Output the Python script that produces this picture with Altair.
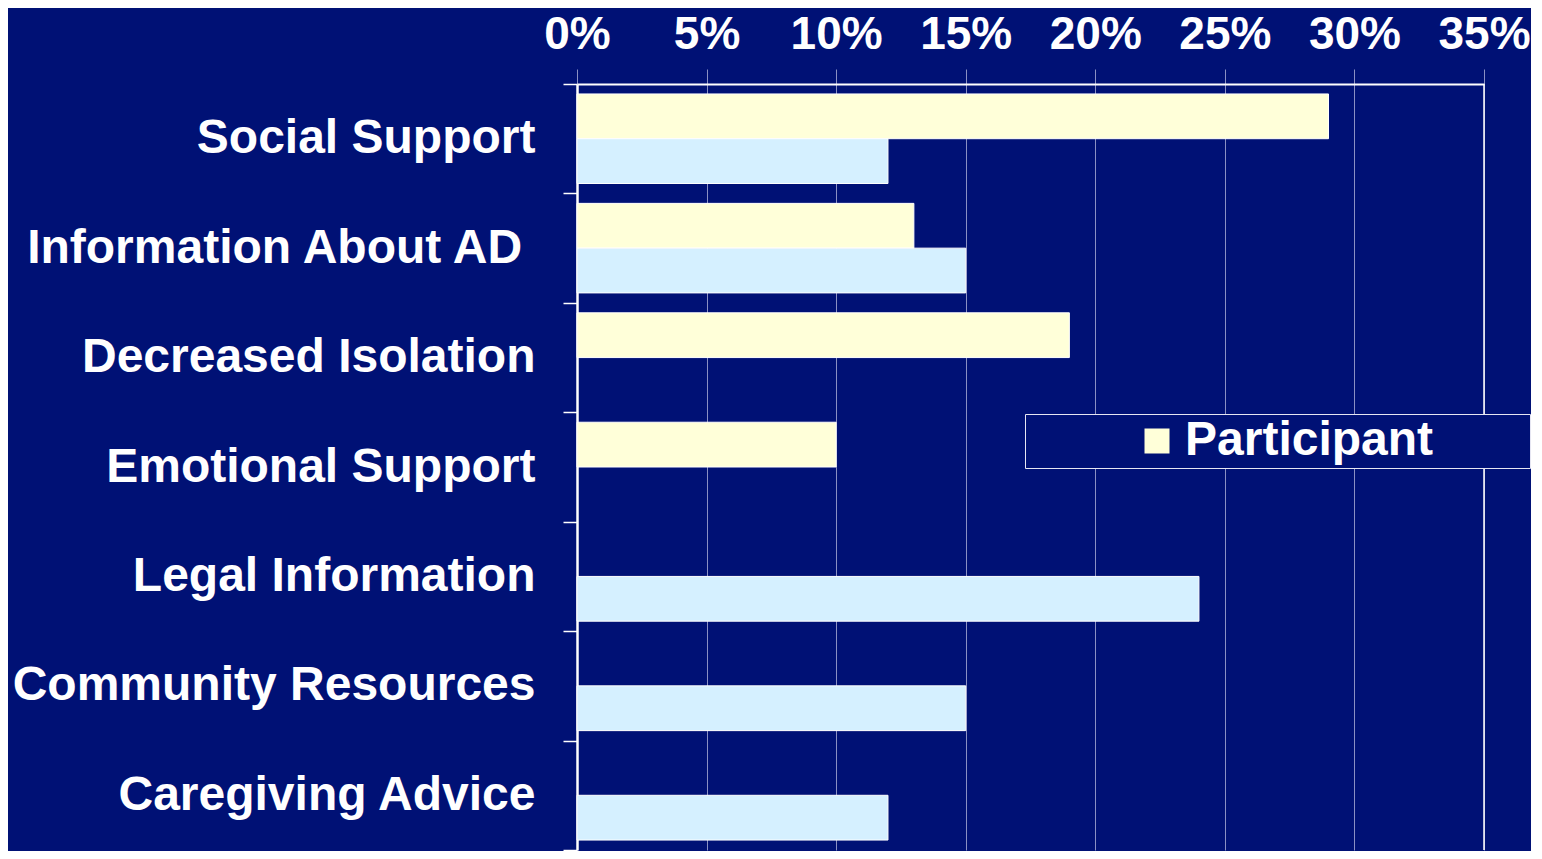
import altair as alt
import pandas as pd

categories = ["Social Support", "Information About AD\u00a0\u200b", "Decreased Isolation",
              "Emotional Support", "Legal Information", "Community Resources",
              "Caregiving Advice"]
series = ["Participant", "Caregiver"]
participant = [0.29, 0.13, 0.19, 0.10, 0.0, 0.0, 0.0]
caregiver = [0.12, 0.15, 0.0, 0.0, 0.24, 0.15, 0.12]
x_ticks = [0, 0.05, 0.10, 0.15, 0.20, 0.25, 0.30, 0.35]

rows = []
for c, p, g in zip(categories, participant, caregiver):
    if p > 0:
        rows.append({"category": c, "series": "Participant", "value": p})
    if g > 0:
        rows.append({"category": c, "series": "Caregiver", "value": g})
df = pd.DataFrame(rows)

NAVY = "#001175"
FONT = "Liberation Sans"

bars = alt.Chart(df).mark_bar(stroke="white", strokeWidth=1).encode(
    x=alt.X("value:Q",
            scale=alt.Scale(domain=[0, 0.35], nice=False),
            axis=alt.Axis(orient="top", format=".0%", values=x_ticks, title=None,
                          grid=True, gridColor="#8A90C4", gridWidth=1,
                          tickColor="#8A90C4", tickSize=15, tickWidth=1,
                          domainColor="white", domainWidth=2,
                          labelFontSize=46, labelFont=FONT, labelFontWeight="bold",
                          labelColor="white", labelPadding=11, labelFlush=False)),
    y=alt.Y("category:N", sort=categories,
            scale=alt.Scale(domain=categories, paddingInner=0, paddingOuter=0),
            axis=alt.Axis(title=None, tickBand="extent", grid=False,
                          tickColor="white", tickSize=14, tickWidth=1.5,
                          domainColor="white", domainWidth=2.5,
                          labelFontSize=48, labelFont=FONT, labelFontWeight="bold",
                          labelColor="white", labelPadding=28, labelLimit=1000)),
    yOffset=alt.YOffset("series:N", scale=alt.Scale(domain=series, paddingInner=0, paddingOuter=0.222)),
    color=alt.Color("series:N",
                    scale=alt.Scale(domain=series, range=["#FFFFD9", "#D5F0FF"]),
                    legend=alt.Legend(values=["Participant"], orient="none",
                                      legendX=448, legendY=330,
                                      title="MMM", titleOrient="left",
                                      titleColor=NAVY, titleFont=FONT,
                                      titleFontWeight="bold",
                                      titleFontSize=42, titlePadding=0,
                                      symbolType="square", symbolSize=625,
                                      symbolStrokeWidth=0,
                                      labelFontSize=48, labelFont=FONT,
                                      labelFontWeight="bold", labelColor="white",
                                      labelLimit=1000, labelOffset=4,
                                      labelExpr="datum.label + '\u00a0\u00a0\u00a0\u00a0\u00a0\u00a0\u00a0\u200b'",
                                      padding=3, strokeColor="#E6E6F2",
                                      fillColor=NAVY)),
)

border = alt.Chart(pd.DataFrame({"v": [0.35]})).mark_rule(color="white", strokeWidth=1.5).encode(
    x=alt.X("v:Q")
)

chart = alt.layer(bars, border).properties(
    width=907, height=766,
    padding={"left": 4, "top": 3, "right": 0, "bottom": 0},
    background=NAVY,
).configure_view(stroke=None)

chart.save("out.html", embed_options={"renderer": "svg", "actions": False})
